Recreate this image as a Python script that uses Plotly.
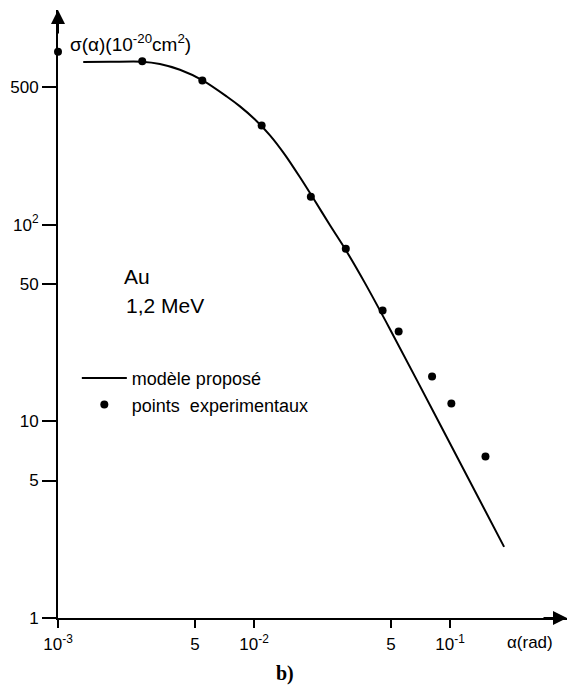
import plotly.graph_objects as go

# experimental points (alpha in rad, sigma in 1e-20 cm^2)
alpha_exp = [1.0e-3, 2.69e-3, 5.45e-3, 1.094e-2, 1.95e-2, 2.94e-2, 4.53e-2, 5.47e-2, 8.10e-2, 1.016e-1, 1.517e-1]
sigma_exp = [757, 676, 541, 319, 138.6, 75.4, 36.6, 28.6, 16.9, 12.3, 6.63]

# proposed model curve
alpha_model = [1.345e-3, 1.842e-3, 2.67e-3, 3.31e-3, 4.19e-3, 5.47e-3, 7.26e-3, 8.48e-3,
               1.0118e-2, 1.2067e-2, 1.4393e-2, 1.7167e-2, 2.0476e-2, 2.442e-2, 2.912e-2,
               3.684e-2, 4.942e-2, 8.89e-2, 1.888e-1]
sigma_model = [671, 672, 673, 655.4, 612.3, 541, 448, 399,
               342.2, 284.4, 226.4, 174.0, 131.8, 99.2, 75.4,
               50.4, 29.4, 9.67, 2.30]

x_tickvals = [1e-3, 5e-3, 1e-2, 5e-2, 1e-1]
x_ticktext = ["10<sup>-3</sup>", "5", "10<sup>-2</sup>", "5", "10<sup>-1</sup>"]
y_tickvals = [1, 5, 10, 50, 100, 500]
y_ticktext = ["1", "5", "10", "50", "10<sup>2</sup>", "500"]

FONT = "Liberation Sans"

fig = go.Figure()
fig.add_trace(go.Scatter(
    x=alpha_model, y=sigma_model, mode="lines", name="modèle proposé",
    line=dict(color="black", width=2, shape="spline", smoothing=0.8),
    legendgroup="a"))
fig.add_trace(go.Scatter(
    x=alpha_exp, y=sigma_exp, mode="markers", name="points  experimentaux",
    marker=dict(color="black", size=8), cliponaxis=False, legendgroup="b"))

W, H = 568, 686
L, R, T, B = 58, 1, 10, 68
plot_w = W - L - R
plot_h = H - T - B
dec_x = 196.0
dec_y = 196.7

fig.update_layout(
    width=W, height=H, autosize=False,
    margin=dict(l=L, r=R, t=T, b=B),
    paper_bgcolor="white", plot_bgcolor="white",
    font=dict(family=FONT, size=17, color="black"),
    showlegend=True,
    legend=dict(x=0.037, y=0.4245, xanchor="left", yanchor="top",
                font=dict(family=FONT, size=18, color="black"),
                bgcolor="rgba(0,0,0,0)", itemwidth=45, tracegroupgap=0),
    xaxis=dict(type="log", range=[-3, -3 + plot_w / dec_x],
               tickvals=x_tickvals, ticktext=x_ticktext,
               showgrid=False, zeroline=False, showline=True,
               linecolor="black", linewidth=2,
               ticks="outside", ticklen=8, tickwidth=2, tickcolor="black",
               ticklabelstandoff=2,
               tickfont=dict(family=FONT, size=17, color="black")),
    yaxis=dict(type="log", range=[0, plot_h / dec_y],
               tickvals=y_tickvals, ticktext=y_ticktext,
               showgrid=False, zeroline=False, showline=True,
               linecolor="black", linewidth=2,
               ticks="outside", ticklen=14, tickwidth=2, tickcolor="black",
               tickfont=dict(family=FONT, size=17, color="black")),
)

annotations = [
    # axis arrows
    dict(xref="paper", yref="paper", x=0, y=1, ax=0, ay=25, showarrow=True,
         arrowhead=2, arrowsize=1.4, arrowwidth=2, arrowcolor="black", text="", standoff=0),
    dict(xref="paper", yref="paper", x=1, y=0, ax=-25, ay=0, showarrow=True,
         arrowhead=2, arrowsize=1.4, arrowwidth=2, arrowcolor="black", text="", standoff=0),
    dict(xref="paper", yref="paper", x=0.0196, y=0.9457, xanchor="left", yanchor="middle",
         text="σ(α)(10<sup>-20</sup>cm<sup>2</sup>)", showarrow=False,
         font=dict(family=FONT, size=19, color="black")),
    dict(xref="paper", yref="paper", x=0.125, y=0.561, xanchor="left", yanchor="middle",
         text="Au", showarrow=False, font=dict(family=FONT, size=21, color="black")),
    dict(xref="paper", yref="paper", x=0.130, y=0.5135, xanchor="left", yanchor="middle",
         text="1,2 MeV", showarrow=False, font=dict(family=FONT, size=21, color="black")),
    dict(xref="paper", yref="paper", x=0.927, y=-0.041, xanchor="center", yanchor="middle",
         text="α(rad)", showarrow=False, font=dict(family=FONT, size=17, color="black")),
    dict(xref="paper", yref="paper", x=0.446, y=-0.092, xanchor="center", yanchor="middle",
         text="<b>b)</b>", showarrow=False, font=dict(family="Liberation Serif", size=20, color="black")),
]
fig.update_layout(annotations=annotations)

fig.write_html("out.html",
               config={"displayModeBar": False},
               post_script="document.body.style.margin='0px';document.body.style.padding='0px';")
